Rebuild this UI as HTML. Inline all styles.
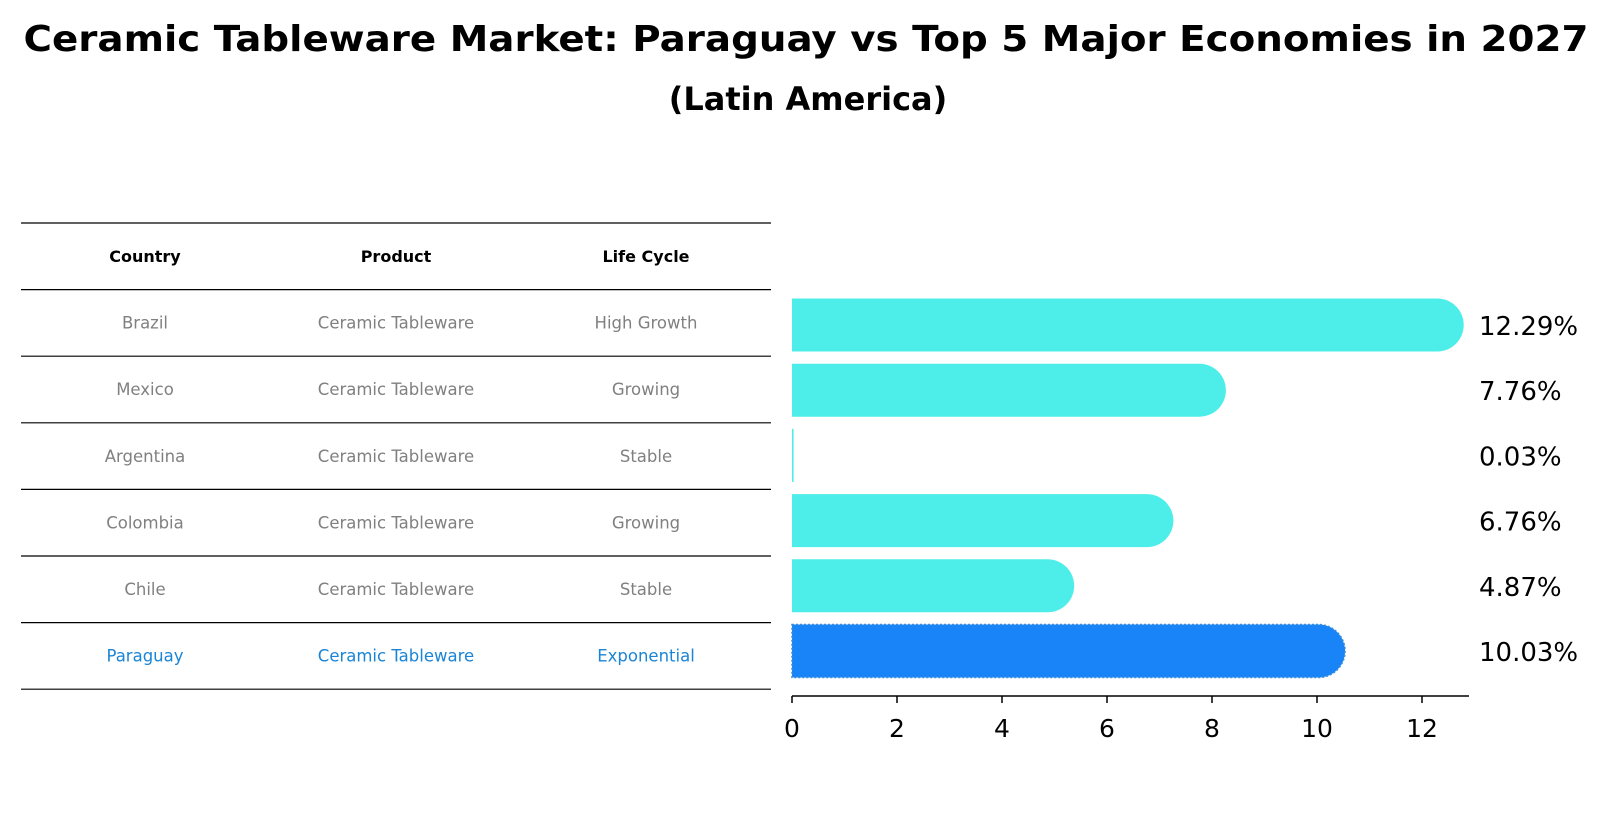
<!DOCTYPE html>
<html><head><meta charset="utf-8"><style>
body{margin:0;background:#fff;}
svg{display:block;font-family:"DejaVu Sans","Liberation Sans",sans-serif;}
</style></head><body>
<svg id="c" width="1611" height="823">
<text x="806" y="51" text-anchor="middle" font-size="36" font-weight="bold" textLength="1565" lengthAdjust="spacingAndGlyphs">Ceramic Tableware Market: Paraguay vs Top 5 Major Economies in 2027</text>
<text x="808" y="110" text-anchor="middle" font-size="32" font-weight="bold">(Latin America)</text>
<g id="table"></g>
<g id="bars"></g>
</svg>
<script>
const countries=["Brazil","Mexico","Argentina","Colombia","Chile","Paraguay"];
const products=["Ceramic Tableware","Ceramic Tableware","Ceramic Tableware","Ceramic Tableware","Ceramic Tableware","Ceramic Tableware"];
const lifeCycles=["High Growth","Growing","Stable","Growing","Stable","Exponential"];
const values=[12.29,7.76,0.03,6.76,4.87,10.03];
const valueLabels=["12.29%","7.76%","0.03%","6.76%","4.87%","10.03%"];
const ticks=[0,2,4,6,8,10,12];

const NS="http://www.w3.org/2000/svg";
function mk(t,a,p){const e=document.createElementNS(NS,t);for(const k in a)e.setAttribute(k,a[k]);p.appendChild(e);return e;}
const tbl=document.getElementById('table'), bars=document.getElementById('bars');
const lineY=i=>223+i*66.6;
const colX=[145,396,646];
for(let i=0;i<=7;i++){const l=mk('line',{x1:21,x2:771,y1:lineY(i),y2:lineY(i),stroke:'#000','stroke-width':1.2},tbl);

}
["Country","Product","Life Cycle"].forEach((h,j)=>{const t=mk('text',{x:colX[j],y:lineY(0)+39,'text-anchor':'middle','font-size':16,'font-weight':'bold'},tbl);t.textContent=h;

});
countries.forEach((c,i)=>{const last=i===countries.length-1;const col=last?'#1a85d6':'#808080';
[c,products[i],lifeCycles[i]].forEach((v,j)=>{const t=mk('text',{x:colX[j],y:lineY(i+1)+39,'text-anchor':'middle','font-size':16.5,fill:col},tbl);t.textContent=v;

});});
const x0=792,ppu=52.5;const xs=v=>x0+v*ppu;
const yc=i=>325+i*65.2;const bh=53,r=26.5;
const ax=mk('line',{x1:x0,x2:1469,y1:696,y2:696,stroke:'#000','stroke-width':1.5},bars);


ticks.forEach(t=>{const l=mk('line',{x1:xs(t),x2:xs(t),y1:696,y2:703,stroke:'#000','stroke-width':1.5},bars);


const tx=mk('text',{x:xs(t),y:737,'text-anchor':'middle','font-size':25},bars);tx.textContent=t;

});
values.forEach((v,i)=>{const last=i===values.length-1;const w=v*ppu;const top=yc(i)-bh/2;
let d;
if(w<r){d=`M${x0},${top}h${Math.max(w,1.5)}v${bh}h${-Math.max(w,1.5)}z`;}
else d=`M${x0},${top}H${x0+w}A${r},${bh/2} 0 0 1 ${x0+w},${top+bh}H${x0}Z`;
const p=mk('path',{d:d,fill:last?'#1884f7':'#4deeea'},bars);
if(last){p.setAttribute('stroke','#3a8fd8');p.setAttribute('stroke-dasharray','2 2');p.setAttribute('stroke-width','1.5');}


const t=mk('text',{x:1479,y:yc(i)+10,'font-size':26},bars);t.textContent=valueLabels[i];

});
</script>
</body></html>
